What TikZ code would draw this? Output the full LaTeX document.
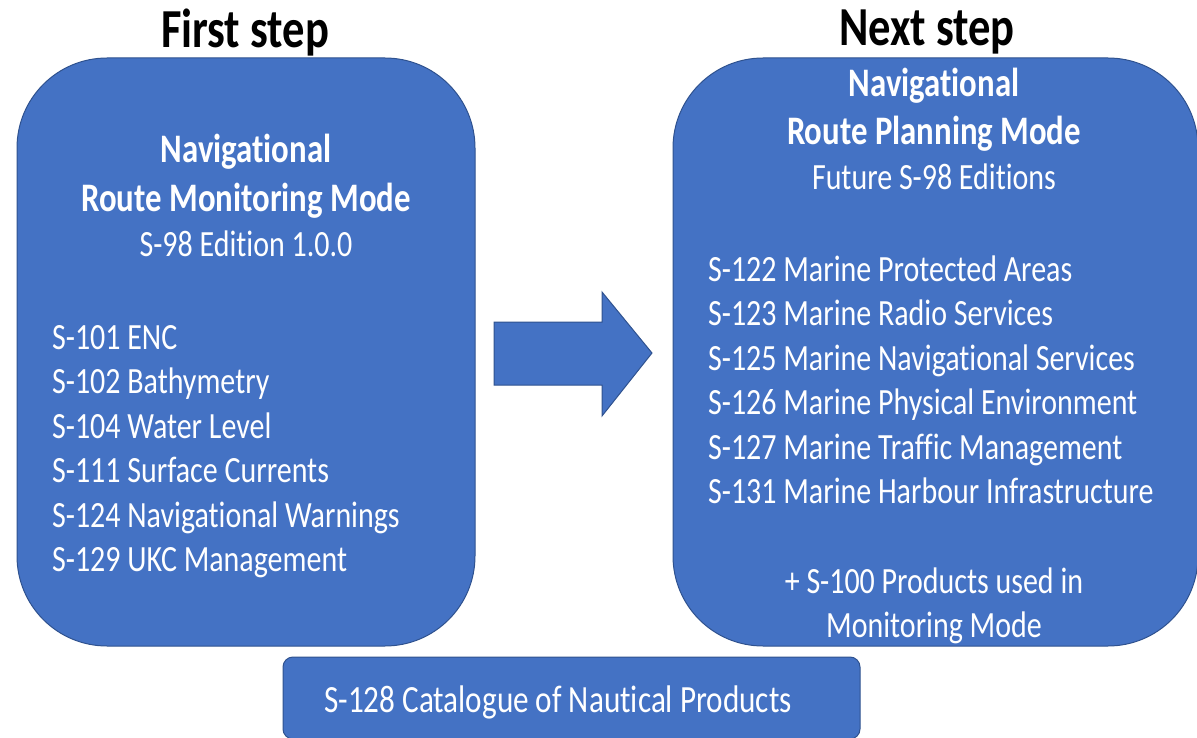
\documentclass[tikz,border=0pt]{standalone}
\usepackage{fontspec}
\setmainfont{Carlito}[FakeStretch=0.81, Ligatures={NoCommon, NoContextual}]
\usepackage{xcolor}
\usepackage{tikz}
\usetikzlibrary{positioning}
\usetikzlibrary{calc}

\definecolor{boxblue}{HTML}{4472C4}
\definecolor{edgeblue}{HTML}{2F528F}

\begin{document}
\begin{tikzpicture}[x=1pt,y=-1pt]
\tikzstyle{stepbox}=[draw=edgeblue, line width=1pt, fill=boxblue, inner sep=0pt, rounded corners=90pt]
\tikzstyle{steptitle}=[inner sep=0pt, anchor=base, font=\fontsize{55}{60}\selectfont\bfseries]
\tikzstyle{modehead}=[inner sep=0pt, anchor=base, text=white, font=\fontsize{40.5}{49}\selectfont\bfseries]
\tikzstyle{item}=[inner sep=0pt, text=white, font=\fontsize{37}{44.5}\selectfont]
\useasboundingbox (0,0) rectangle (1197,738);

% boxes
\node[stepbox, minimum width=458pt, minimum height=588pt] (first) at (246,352) {};
\node[stepbox, minimum width=525pt, minimum height=588pt] (next) at (935.5,352) {};
\node[stepbox, rounded corners=10pt, minimum width=577pt, minimum height=82pt] (catalogue) at (571.5,698) {};

% arrow between the steps
\draw[draw=edgeblue, line width=1pt, fill=boxblue] (494,322) -- (602,322) -- (602,292) -- (652,353)
  -- (602,416) -- (602,385) -- (494,385) -- cycle;

% titles
\node[steptitle] (firsttitle) at (245,48) {First step};
\node[steptitle] (nexttitle) at (927,46) {Next step};

% first step
\node[modehead] (navL) at (246,163) {Navigational};
\node[modehead] (modeL) at (246,212) {Route Monitoring Mode};
\node[item, anchor=base] (edL) at (246,257) {S-98 Edition 1.0.0};
\foreach \txt [count=\i] in {S-101 ENC, S-102 Bathymetry, S-104 Water Level, S-111 Surface Currents,
  S-124 Navigational Warnings, S-129 UKC Management}
  \node[item, anchor=base west] (fs\i) at (52,{349+44.5*(\i-1)}) {\txt};

% next step
\node[modehead] (navR) at (934,97) {Navigational};
\node[modehead] (modeR) at (934,145) {Route Planning Mode};
\node[item, anchor=base] (edR) at (934,190) {Future S-98 Editions};
\foreach \txt [count=\i] in {S-122 Marine Protected Areas, S-123 Marine Radio Services,
  S-125 Marine Navigational Services, S-126 Marine Physical Environment,
  S-127 Marine Traffic Management, S-131 Marine Harbour Infrastructure}
  \node[item, anchor=base west] (ns\i) at (708,{281+44.5*(\i-1)}) {\txt};
\node[item, anchor=base] (plus1) at (934,593) {+ S-100 Products used in};
\node[item, anchor=base] (plus2) at (934,637) {Monitoring Mode};

% catalogue
\node[item, anchor=base, font=\fontsize{38.5}{46}\selectfont] (cattext) at (558,712) {S-128 Catalogue of Nautical Products};
\end{tikzpicture}
\end{document}
